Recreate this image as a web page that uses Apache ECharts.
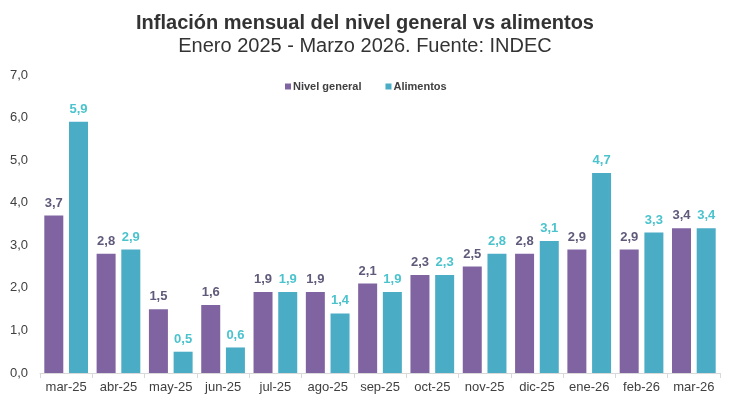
<!DOCTYPE html>
<html>
<head>
<meta charset="utf-8">
<script src="https://cdn.jsdelivr.net/npm/echarts@6/dist/echarts.min.js"></script>
<style>
  html, body { margin: 0; padding: 0; background: #fff; }
  #chart { width: 730px; height: 397px; }
</style>
</head>
<body>
<div id="chart"></div>
<script>
// meses
const categories = ['mar-25', 'abr-25', 'may-25', 'jun-25', 'jul-25', 'ago-25', 'sep-25',
  'oct-25', 'nov-25', 'dic-25', 'ene-26', 'feb-26', 'mar-26'];

// variacion mensual (%)
const nivelGeneral = [3.7, 2.8, 1.5, 1.6, 1.9, 1.9, 2.1, 2.3, 2.5, 2.8, 2.9, 2.9, 3.4];
const alimentos = [5.9, 2.9, 0.5, 0.6, 1.9, 1.4, 1.9, 2.3, 2.8, 3.1, 4.7, 3.3, 3.4];

const fmt = v => v.toFixed(1).replace('.', ',');

const chart = echarts.init(document.getElementById('chart'));

const option = {
  animation: false,
  textStyle: { fontFamily: 'Liberation Sans, Arial, sans-serif' },
  title: {
    text: 'Inflación mensual del nivel general vs alimentos',
    subtext: 'Enero 2025 - Marzo 2026. Fuente: INDEC',
    left: 'center',
    top: 8,
    itemGap: 3,
    textStyle: { fontSize: 20, fontWeight: 'bold', color: '#333' },
    subtextStyle: { fontSize: 20, color: '#333' }
  },
  legend: {
    data: ['Nivel general', 'Alimentos'],
    top: 76,
    left: 280,
    itemWidth: 6,
    itemHeight: 6,
    itemGap: 24,
    icon: 'rect',
    textStyle: { fontSize: 11, fontWeight: 'bold', color: '#404040', padding: [0, 0, 0, -3] }
  },
  grid: { left: 40, right: 10, top: 75, bottom: 24 },
  xAxis: {
    type: 'category',
    data: categories,
    axisLine: { lineStyle: { color: '#d9d9d9' } },
    axisTick: { show: true, lineStyle: { color: '#d9d9d9' } },
    axisLabel: { fontSize: 13, color: '#404040', margin: 8, interval: 0 }
  },
  yAxis: {
    type: 'value',
    min: 0,
    max: 7,
    interval: 1,
    splitLine: { show: false },
    axisLine: { show: false },
    axisLabel: { fontSize: 13, color: '#404040', margin: 12, formatter: v => fmt(v) }
  },
  series: [
    {
      name: 'Nivel general',
      type: 'bar',
      data: nivelGeneral,
      barWidth: 19,
      barGap: '30%',
      itemStyle: { color: '#8064a2' },
      label: {
        show: true, position: 'top', distance: 6,
        fontSize: 13, fontWeight: 'bold', color: '#5f5a7a',
        formatter: p => fmt(p.value)
      }
    },
    {
      name: 'Alimentos',
      type: 'bar',
      data: alimentos,
      barWidth: 19,
      itemStyle: { color: '#4bacc6' },
      label: {
        show: true, position: 'top', distance: 6,
        fontSize: 13, fontWeight: 'bold', color: '#4bc3cd',
        formatter: p => fmt(p.value)
      }
    }
  ]
};

chart.setOption(option);
</script>
</body>
</html>
